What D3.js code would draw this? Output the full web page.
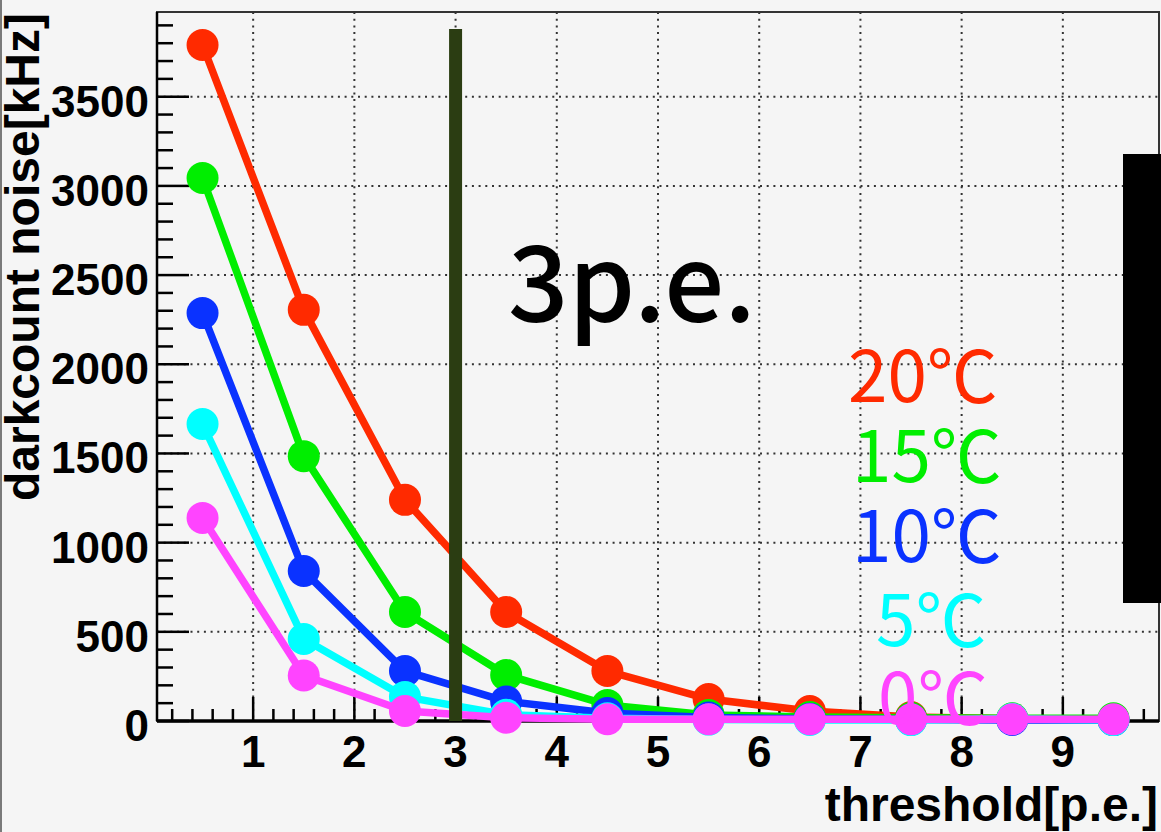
<!DOCTYPE html>
<html>
<head>
<meta charset="utf-8">
<script src="https://cdn.jsdelivr.net/npm/d3@7"></script>
<style>
  html, body { margin: 0; padding: 0; background: #f5f5f5; }
  svg { display: block; }
  .tick-label { font-family: "Liberation Sans", Arial, sans-serif; font-weight: bold; font-size: 44px; fill: #000; }
  .axis-title { font-family: "Liberation Sans", Arial, sans-serif; font-weight: bold; font-size: 48px; fill: #000; }
  .note { font-family: "Noto Sans CJK JP", "Noto Sans", sans-serif; }
</style>
</head>
<body>
<svg id="chart" width="1161" height="832"></svg>
<script>
// threshold in p.e.
var thresholds = [0.5, 1.5, 2.5, 3.5, 4.5, 5.5, 6.5, 7.5, 8.5, 9.5];

// darkcount noise [kHz] per temperature
var noise20 = [3790, 2305, 1240, 611, 280, 123, 56, 22, 12, 8];
var noise15 = [3044, 1485, 611, 258, 90, 34, 22, 18, 15, 15];
var noise10 = [2287, 841, 280, 110, 45, 20, 12, 8, 6, 5];
var noise5 = [1665, 460, 135, 35, 15, 8, 6, 5, 12, 5];
var noise0 = [1138, 255, 56, 18, 10, 10, 10, 10, 10, 10];

var seriesLabels = ["20℃", "15℃", "10℃", "5℃", "0℃"];
var seriesColors = ["#ff2a00", "#00ee00", "#0a32ff", "#00ffff", "#ff44ff"];

var xTicks = [1, 2, 3, 4, 5, 6, 7, 8, 9];
var yTicks = [0, 500, 1000, 1500, 2000, 2500, 3000, 3500];

var cutX = 3;       // 3 p.e. marker line
var cutTop = 3880;

var svg = d3.select("svg#chart");

var x = d3.scaleLinear().domain([0.05, 9.95]).range([157, 1159]);
var y = d3.scaleLinear().domain([0, 3975]).range([721, 12]);

// left border strip of the picture
svg.append("rect").attr("x", 0).attr("y", 0).attr("width", 2).attr("height", 832).attr("fill", "#7a7a7a");

// grid
var grid = svg.append("g").attr("stroke", "#333").attr("stroke-width", 2).attr("stroke-dasharray", "2,4.7");
grid.selectAll("line.gx").data(xTicks).enter().append("line")
  .attr("x1", d => x(d)).attr("x2", d => x(d))
  .attr("y1", y.range()[1]).attr("y2", y.range()[0]);
grid.selectAll("line.gy").data(yTicks.filter(d => d > 0)).enter().append("line")
  .attr("y1", d => y(d)).attr("y2", d => y(d))
  .attr("x1", x.range()[0]).attr("x2", x.range()[1]);

// frame
svg.append("rect")
  .attr("x", x.range()[0]).attr("y", y.range()[1])
  .attr("width", x.range()[1] - x.range()[0])
  .attr("height", y.range()[0] - y.range()[1])
  .attr("fill", "none").attr("stroke", "#333").attr("stroke-width", 2);

// y ticks (major + minor), drawn inward
var yMinor = d3.range(0, 3975, 100);
svg.append("g").selectAll("line").data(yMinor).enter().append("line")
  .attr("x1", x.range()[0])
  .attr("x2", d => x.range()[0] + (d % 500 === 0 ? 32 : 16))
  .attr("y1", d => y(d)).attr("y2", d => y(d))
  .attr("stroke", "#000").attr("stroke-width", 2.5);

// x ticks (major + minor)
var xMinor = d3.range(2, 100, 2).map(d => d / 10);
svg.append("g").selectAll("line").data(xMinor).enter().append("line")
  .attr("x1", d => x(d)).attr("x2", d => x(d))
  .attr("y1", y.range()[0])
  .attr("y2", d => y.range()[0] - (Math.abs(d - Math.round(d)) < 1e-6 ? 24 : 12))
  .attr("stroke", "#000").attr("stroke-width", 2.5);

// axis lines
svg.append("line").attr("x1", x.range()[0]).attr("x2", x.range()[1])
  .attr("y1", y.range()[0]).attr("y2", y.range()[0])
  .attr("stroke", "#000").attr("stroke-width", 3.5);
svg.append("line").attr("x1", x.range()[0]).attr("x2", x.range()[0])
  .attr("y1", y.range()[0]).attr("y2", y.range()[1])
  .attr("stroke", "#000").attr("stroke-width", 2.5);

// tick labels
svg.append("g").selectAll("text").data(yTicks).enter().append("text")
  .attr("class", "tick-label")
  .attr("x", 149).attr("y", d => y(d) + 20)
  .attr("text-anchor", "end")
  .text(d => d);
svg.append("g").selectAll("text").data(xTicks).enter().append("text")
  .attr("class", "tick-label")
  .attr("x", d => x(d)).attr("y", 767)
  .attr("text-anchor", "middle")
  .text(d => d);

// axis titles
svg.append("text").attr("class", "axis-title")
  .attr("transform", "translate(39,13) rotate(-90)")
  .attr("text-anchor", "end")
  .text("darkcount noise[kHz]");
svg.append("text").attr("class", "axis-title")
  .attr("x", 1158).attr("y", 821)
  .attr("text-anchor", "end")
  .text("threshold[p.e.]");

// series
var allSeries = [noise20, noise15, noise10, noise5, noise0];
var line = d3.line().x((d, i) => x(thresholds[i])).y(d => y(d));

allSeries.forEach(function (vals, k) {
  var g = svg.append("g");
  g.append("path").datum(vals)
    .attr("d", line)
    .attr("fill", "none")
    .attr("stroke", seriesColors[k])
    .attr("stroke-width", 7.5)
    .attr("stroke-linejoin", "round");
  g.selectAll("circle").data(vals).enter().append("circle")
    .attr("cx", (d, i) => x(thresholds[i]))
    .attr("cy", d => y(d))
    .attr("r", 16)
    .attr("fill", seriesColors[k]);
});

// 3 p.e. cut line
svg.append("line")
  .attr("x1", x(cutX)).attr("x2", x(cutX))
  .attr("y1", y(cutTop)).attr("y2", y(0))
  .attr("stroke", "#2b3d12").attr("stroke-width", 13);

svg.append("text").attr("class", "note")
  .attr("x", 508).attr("y", 322)
  .attr("font-size", 106)
  .attr("font-weight", 500)
  .attr("fill", "#000")
  .text("3p.e.");

// temperature labels
var labelX = [848, 852, 852, 876, 878];
var labelY = [402, 482, 562, 646, 724];
svg.append("g").selectAll("text").data(seriesLabels).enter().append("text")
  .attr("class", "note")
  .attr("x", (d, i) => labelX[i]).attr("y", (d, i) => labelY[i])
  .attr("font-size", 71)
  .attr("fill", (d, i) => seriesColors[i])
  .text(d => d);

// black block on the right edge
svg.append("rect").attr("x", 1123).attr("y", 154).attr("width", 38).attr("height", 449).attr("fill", "#000");
</script>
</body>
</html>
